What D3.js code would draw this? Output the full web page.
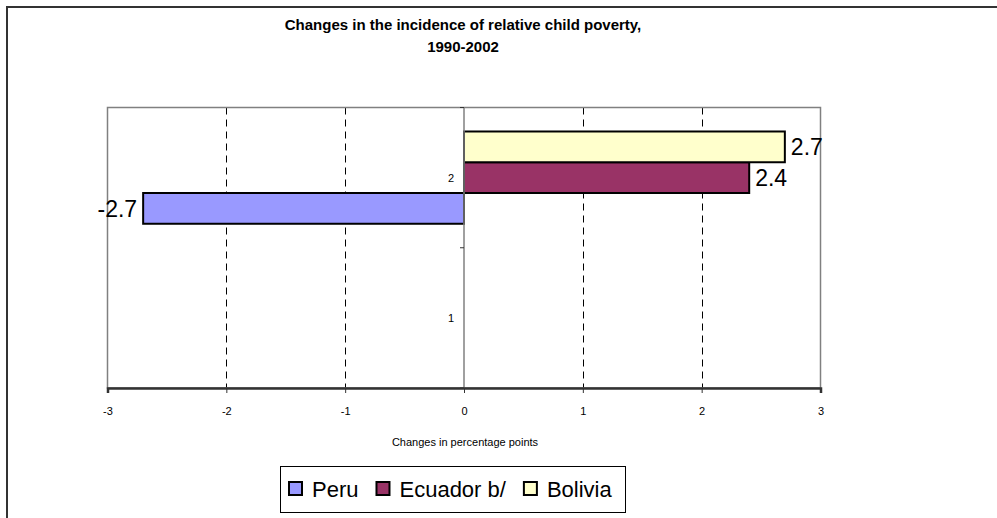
<!DOCTYPE html>
<html>
<head>
<meta charset="utf-8">
<script src="https://cdn.jsdelivr.net/npm/d3@7"></script>
<style>
  html, body { margin: 0; padding: 0; background: #fff; }
  svg { display: block; font-family: "Liberation Sans", Arial, sans-serif; }
</style>
</head>
<body>
<svg id="chart" width="997" height="518"></svg>
<script>
// Category axis labels (bottom to top as drawn: "1" below, "2" above)
const categories = ["1", "2"];
// Series names in legend order
const seriesNames = ["Peru", "Ecuador b/", "Bolivia"];
// Change in percentage points per category; category "1" has no data
const peruValues = [null, -2.7];
const ecuadorValues = [null, 2.4];
const boliviaValues = [null, 2.7];
const xTicks = [-3, -2, -1, 0, 1, 2, 3];
const titleLines = ["Changes in the incidence of relative child poverty,", "1990-2002"];
const xAxisTitle = "Changes in percentage points";

const seriesColors = { "Peru": "#9999FF", "Ecuador b/": "#993366", "Bolivia": "#FFFFCC" };
const seriesValues = { "Peru": peruValues, "Ecuador b/": ecuadorValues, "Bolivia": boliviaValues };

// Plain hyphen-minus for negative numbers
const locale = d3.formatLocale({ decimal: ".", thousands: ",", grouping: [3], currency: ["", ""], minus: "-" });
const fmtValue = locale.format(".1f");
const fmtTick = locale.format("d");

const svg = d3.select("#chart");

// Outer chart frame (extends past the right and bottom edges)
svg.append("rect")
  .attr("x", 7).attr("y", 7).attr("width", 1100).attr("height", 600)
  .attr("fill", "none").attr("stroke", "#333").attr("stroke-width", 2);

// Title
svg.append("g").selectAll("text").data(titleLines).join("text")
  .attr("x", 463).attr("y", (d, i) => 30 + i * 22)
  .attr("text-anchor", "middle")
  .attr("font-weight", "bold").attr("font-size", 15)
  .attr("fill", "#000")
  .text(d => d);

const plot = { left: 107.5, right: 820.5, top: 107.5, bottom: 388 };

const x = d3.scaleLinear().domain([-3, 3]).range([plot.left, plot.right]);
// Categories stacked from top: "2" then "1"
const y = d3.scaleBand().domain(categories.slice().reverse()).range([plot.top, plot.bottom]).paddingInner(0).paddingOuter(0);
// Within a category, the first series sits at the bottom
const ySeries = d3.scaleBand().domain(seriesNames.slice().reverse()).range([0, y.bandwidth()]).paddingInner(0).paddingOuter(0.78);

// Dashed vertical gridlines
svg.append("g").selectAll("line").data(xTicks.filter(t => t !== 0 && Math.abs(t) !== 3)).join("line")
  .attr("x1", d => Math.round(x(d)) + 0.5).attr("x2", d => Math.round(x(d)) + 0.5)
  .attr("y1", plot.top).attr("y2", plot.bottom)
  .attr("stroke", "#000").attr("stroke-width", 1).attr("stroke-dasharray", "7,5");

// Plot area border
svg.append("rect")
  .attr("x", plot.left).attr("y", plot.top)
  .attr("width", plot.right - plot.left).attr("height", plot.bottom - plot.top)
  .attr("fill", "none").attr("stroke", "#808080").attr("stroke-width", 1.5);

// Bars
const rows = [];
categories.forEach((c, ci) => {
  seriesNames.forEach(s => {
    const v = seriesValues[s][ci];
    if (v !== null) rows.push({ cat: c, series: s, value: v });
  });
});

svg.append("g").selectAll("rect").data(rows).join("rect")
  .attr("x", d => x(Math.min(0, d.value)))
  .attr("y", d => y(d.cat) + ySeries(d.series))
  .attr("width", d => Math.abs(x(d.value) - x(0)))
  .attr("height", ySeries.bandwidth())
  .attr("fill", d => seriesColors[d.series])
  .attr("stroke", "#000").attr("stroke-width", 2);

// Value labels
svg.append("g").selectAll("text").data(rows).join("text")
  .attr("x", d => d.value < 0 ? x(d.value) - 6 : x(d.value) + 6)
  .attr("y", d => y(d.cat) + ySeries(d.series) + ySeries.bandwidth() / 2)
  .attr("dy", "0.36em")
  .attr("text-anchor", d => d.value < 0 ? "end" : "start")
  .attr("font-size", 23).attr("fill", "#000")
  .text(d => fmtValue(d.value));

// Vertical category axis at zero
const yAxisG = svg.append("g").attr("transform", `translate(${x(0)},0)`);
yAxisG.append("line")
  .attr("y1", plot.top).attr("y2", plot.bottom)
  .attr("stroke", "#808080").attr("stroke-width", 1.5);
const boundaries = [plot.top, y("1"), plot.bottom];
yAxisG.selectAll("line.tick").data(boundaries).join("line").attr("class", "tick")
  .attr("x1", -4).attr("x2", 0).attr("y1", d => d).attr("y2", d => d)
  .attr("stroke", "#333").attr("stroke-width", 1);
yAxisG.selectAll("text").data(categories).join("text")
  .attr("x", -10).attr("y", d => y(d) + y.bandwidth() / 2).attr("dy", "0.36em")
  .attr("text-anchor", "end").attr("font-size", 11).attr("fill", "#000")
  .text(d => d);

// Horizontal value axis along the bottom
const xAxis = d3.axisBottom(x).tickValues(xTicks).tickSize(5).tickPadding(14).tickFormat(fmtTick);
const xAxisG = svg.append("g").attr("transform", `translate(0,${plot.bottom})`).call(xAxis);
xAxisG.select(".domain").attr("stroke", "#333").attr("stroke-width", 2.5);
xAxisG.selectAll(".tick line").attr("stroke", "#333").attr("stroke-width", 1);
xAxisG.selectAll(".tick text").attr("font-size", 11).attr("fill", "#000")
  .attr("font-family", "'Liberation Sans', Arial, sans-serif");

// Axis title
svg.append("text")
  .attr("x", 465).attr("y", 446)
  .attr("text-anchor", "middle").attr("font-size", 11).attr("fill", "#000")
  .text(xAxisTitle);

// Legend
const legend = svg.append("g");
legend.append("rect")
  .attr("x", 280.5).attr("y", 466.5).attr("width", 345).attr("height", 46)
  .attr("fill", "#fff").attr("stroke", "#000").attr("stroke-width", 1);
let lx = 289;
seriesNames.forEach(s => {
  legend.append("rect")
    .attr("x", lx).attr("y", 482).attr("width", 13).attr("height", 13)
    .attr("fill", seriesColors[s]).attr("stroke", "#000").attr("stroke-width", 2);
  const t = legend.append("text")
    .attr("x", lx + 23).attr("y", 489).attr("dy", "0.36em")
    .attr("font-size", 22).attr("fill", "#000")
    .text(s);
  lx += 23 + t.node().getComputedTextLength() + 18;
});
</script>
</body>
</html>
